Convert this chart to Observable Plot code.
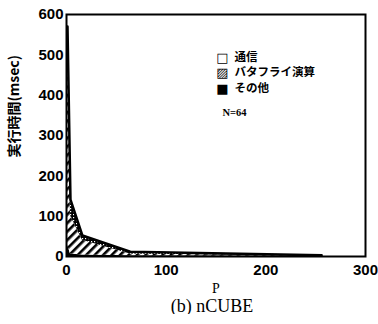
<!DOCTYPE html>
<html><head><meta charset="utf-8">
<script src="https://cdn.jsdelivr.net/npm/d3@7"></script>
<script src="https://cdn.jsdelivr.net/npm/@observablehq/plot@0.6"></script>
<style>
body{margin:0;background:#fff;}
#c{width:378px;}
.cap{font-family:"Liberation Serif",serif;font-size:18px;text-align:center;margin:0 0 0 46px;line-height:16px;}
</style></head><body><div id="c"></div>
<script>
const P = [1, 4, 16, 64, 256];
const other = [30, 6, 4, 2, 1];
const butterfly = [540, 95, 36, 4, 0.5];
const comm = [0, 40, 12, 6, 1.5];
const series = ["その他", "バタフライ演算", "通信"];
const legendLabels = ["通信", "バタフライ演算", "その他"];
const legendGlyphs = ["□", "▨", "■"];
const xTicks = [0, 100, 200, 300];
const yTicks = [0, 100, 200, 300, 400, 500, 600];

const long = [];
P.forEach((p, i) => {
  long.push({P: p, s: "その他", v: other[i]});
  long.push({P: p, s: "バタフライ演算", v: butterfly[i]});
  long.push({P: p, s: "通信", v: comm[i]});
});
const totals = P.map((p, i) => ({P: p, v: other[i] + butterfly[i] + comm[i]}));
const legendDy = [38, 53, 69];

const legendMarks = legendLabels.flatMap((l, i) => [
  Plot.text([legendGlyphs[i]], {frameAnchor: "top-left", dx: 156, dy: legendDy[i], text: d => d, fontSize: 13, fontFamily: "DejaVu Sans", textAnchor: "middle"}),
  Plot.text([l], {frameAnchor: "top-left", dx: 168, dy: legendDy[i], text: d => d, fontSize: 11.5, fontWeight: "bold", textAnchor: "start", fontFamily: "Noto Sans CJK JP"})
]);

const plot = Plot.plot({
  width: 378, height: 298,
  marginLeft: 66, marginRight: 13, marginTop: 14, marginBottom: 42,
  style: {fontFamily: "Liberation Sans, Arial, sans-serif", fontSize: "15px", fontWeight: "bold", color: "#000"},
  x: {domain: [0, 300], ticks: xTicks, tickSize: 0, tickPadding: 8, label: null},
  y: {domain: [0, 600], ticks: yTicks, tickSize: 0, tickPadding: 3, label: null},
  color: {domain: series, range: ["#000", "url(#hatch)", "url(#dots)"]},
  marks: [
    Plot.areaY(long, Plot.stackY({x: "P", y: "v", z: "s", fill: "s", order: series})),
    Plot.lineY(totals, {x: "P", y: "v", stroke: "#000", strokeWidth: 2.5}),
    Plot.frame({stroke: "#000", strokeWidth: 2}),
    ...legendMarks,
    Plot.text(["N=64"], {frameAnchor: "top-left", dx: 156, dy: 94, text: d => d, fontSize: 10.5, fontWeight: "bold", fontFamily: "Liberation Serif, serif", textAnchor: "start"}),
    Plot.text(["P"], {frameAnchor: "bottom", dy: 36, text: d => d, fontSize: 14, fontWeight: "normal", fontFamily: "Liberation Serif, serif"}),
    Plot.text(["実行時間(msec)"], {frameAnchor: "left", dx: -52, dy: 22, rotate: -90, text: d => d, fontSize: 14, fontWeight: "bold", fontFamily: "Noto Sans CJK JP"})
  ]
});

const ns = "http://www.w3.org/2000/svg";
const defs = document.createElementNS(ns, "defs");
defs.innerHTML = `
<pattern id="hatch" patternUnits="userSpaceOnUse" width="6" height="6" patternTransform="rotate(45)">
  <rect width="6" height="6" fill="#fff"/><rect x="0" y="0" width="2.6" height="6" fill="#000"/>
</pattern>
<pattern id="dots" patternUnits="userSpaceOnUse" width="3" height="3">
  <rect width="3" height="3" fill="#000"/><rect x="1" y="1" width="1.2" height="1.2" fill="#fff"/>
</pattern>`;
plot.insertBefore(defs, plot.firstChild);
document.getElementById("c").appendChild(plot);
const cap = document.createElement("div");
cap.className = "cap";
cap.textContent = "(b) nCUBE";
document.getElementById("c").appendChild(cap);
</script></body></html>
